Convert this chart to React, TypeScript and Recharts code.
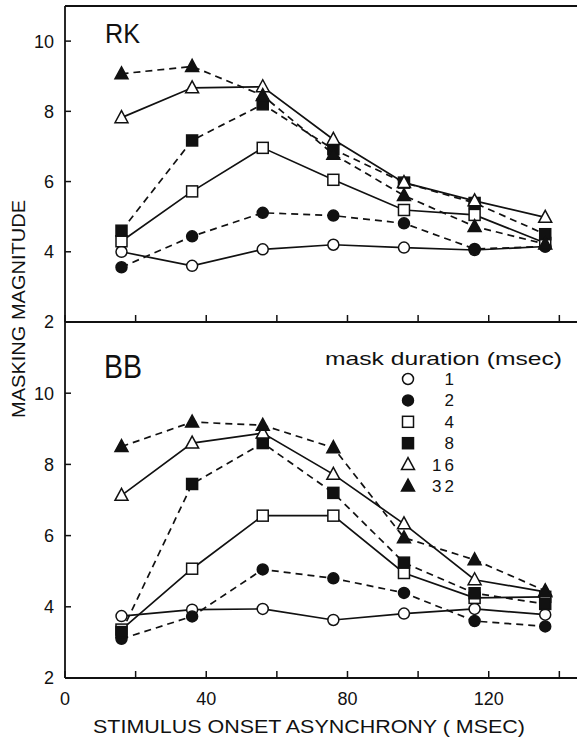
import { LineChart, Line, XAxis, YAxis, ReferenceLine, Legend } from 'recharts'

// stimulus onset asynchrony (msec)
const SOA = [16, 36, 56, 76, 96, 116, 136]
const DURATIONS = ['1', '2', '4', '8', '16', '32']

// subject RK
const RK_1 = [4.0, 3.6, 4.07, 4.2, 4.12, 4.05, 4.15]
const RK_2 = [3.56, 4.44, 5.11, 5.03, 4.81, 4.08, 4.15]
const RK_4 = [4.3, 5.72, 6.96, 6.05, 5.19, 5.05, 4.25]
const RK_8 = [4.6, 7.17, 8.2, 6.92, 5.97, 5.39, 4.5]
const RK_16 = [7.82, 8.67, 8.7, 7.2, 5.97, 5.45, 4.98]
const RK_32 = [9.07, 9.28, 8.45, 6.78, 5.6, 4.72, 4.22]

// subject BB
const BB_1 = [3.74, 3.92, 3.94, 3.63, 3.81, 3.94, 3.78]
const BB_2 = [3.1, 3.73, 5.05, 4.8, 4.39, 3.6, 3.45]
const BB_4 = [3.36, 5.07, 6.56, 6.56, 4.95, 4.25, 4.28]
const BB_8 = [3.29, 7.45, 8.6, 7.2, 5.24, 4.38, 4.08]
const BB_16 = [7.13, 8.6, 8.88, 7.72, 6.33, 4.76, 4.42]
const BB_32 = [8.5, 9.19, 9.1, 8.47, 5.94, 5.32, 4.45]

const X_TICKS = [0, 20, 40, 60, 80, 100, 120, 140]
const Y_TICKS = [2, 4, 6, 8, 10]

const SHAPES = ['circle', 'circle', 'square', 'square', 'triangle', 'triangle']
const FILLED = [false, true, false, true, false, true]

const FONT = '"Liberation Sans", Arial, sans-serif'
const INK = '#111'

const toRows = (series: number[][]) =>
  SOA.map((soa, i) => {
    const row: Record<string, number> = { soa }
    series.forEach((s, k) => { row[`d${DURATIONS[k]}`] = s[i] })
    return row
  })

const rkData = toRows([RK_1, RK_2, RK_4, RK_8, RK_16, RK_32])
const bbData = toRows([BB_1, BB_2, BB_4, BB_8, BB_16, BB_32])

function Marker({ cx, cy, shape, filled }: { cx: number; cy: number; shape: string; filled: boolean }) {
  const fill = filled ? INK : '#fff'
  if (shape === 'circle') {
    return <circle cx={cx} cy={cy} r={5.5} fill={fill} stroke={INK} strokeWidth={1.5} />
  }
  if (shape === 'square') {
    return <rect x={cx - 5.5} y={cy - 5.5} width={11} height={11} fill={fill} stroke={INK} strokeWidth={1.5} />
  }
  return (
    <polygon
      points={`${cx},${cy - 7} ${cx - 6.5},${cy + 5} ${cx + 6.5},${cy + 5}`}
      fill={fill} stroke={INK} strokeWidth={1.5} strokeLinejoin="miter"
    />
  )
}

const makeDot = (k: number) => (p: any) => (
  <Marker key={`dot-${k}-${p.index}`} cx={p.cx} cy={p.cy} shape={SHAPES[k]} filled={FILLED[k]} />
)

function LegendBox() {
  return (
    <svg width={277} height={160} style={{ display: 'block' }}>
      <text x={25} y={23} fontSize={19} fontFamily={FONT} fill={INK} textLength={237} lengthAdjust="spacingAndGlyphs">
        mask duration (msec)
      </text>
      {DURATIONS.map((d, k) => {
        const cy = 37 + k * 21.4
        return (
          <g key={d}>
            <Marker cx={108} cy={cy} shape={SHAPES[k]} filled={FILLED[k]} />
            <text x={157} y={cy + 6} fontSize={17} fontFamily={FONT} fill={INK} textAnchor="end" letterSpacing={3}>
              {d}
            </text>
          </g>
        )
      })}
    </svg>
  )
}

const lines = DURATIONS.map((d, k) => (
  <Line
    key={d}
    type="linear"
    dataKey={`d${d}`}
    stroke={INK}
    strokeWidth={1.7}
    strokeDasharray={FILLED[k] ? '7 5' : undefined}
    dot={makeDot(k)}
    activeDot={false}
    isAnimationActive={false}
  />
))

const axisLine = { stroke: INK, strokeWidth: 1.8 }
const tickLine = { stroke: INK, strokeWidth: 1.5 }
const tickStyle = { fill: INK, fontSize: 18, fontFamily: FONT }

export default function App() {
  return (
    <div style={{ position: 'absolute', left: 0, top: 0, width: 577, height: 743, background: '#fff', fontFamily: FONT }}>
      <div style={{ position: 'absolute', left: 0, top: 312 }}>
        <LineChart width={577} height={431} data={bbData} margin={{ top: 10, right: 0, bottom: 0, left: 0 }}>
          <XAxis
            dataKey="soa" type="number" domain={[0, 145]} ticks={X_TICKS} interval={0}
            height={65} axisLine={axisLine} tickLine={tickLine} tickSize={-7} tickMargin={21}
            tick={tickStyle} tickFormatter={(v: number) => (v % 40 === 0 ? String(v) : '')}
          />
          <YAxis
            type="number" domain={[2, 12]} ticks={Y_TICKS} interval={0} width={65}
            axisLine={axisLine} tickLine={tickLine} tickSize={-6} tickMargin={17} tick={tickStyle}
          />
          <Legend
            layout="vertical" align="center" verticalAlign="middle"
            wrapperStyle={{ left: 300, top: 30, width: 277, height: 160 }}
            content={() => <LegendBox />}
          />
          {lines}
        </LineChart>
      </div>
      <div style={{ position: 'absolute', left: 0, top: 0 }}>
        <LineChart width={577} height={340} data={rkData} margin={{ top: 6, right: 0, bottom: 0, left: 0 }}>
          <XAxis
            dataKey="soa" type="number" domain={[0, 145]} ticks={X_TICKS} interval={0}
            height={18} axisLine={axisLine} tickLine={tickLine} tickSize={-7}
            tickFormatter={() => ''}
          />
          <YAxis
            type="number" domain={[2, 11]} ticks={Y_TICKS} interval={0} width={65}
            axisLine={axisLine} tickLine={tickLine} tickSize={-6} tickMargin={17} tick={tickStyle}
          />
          <ReferenceLine y={11} stroke={INK} strokeWidth={1.8} />
          {lines}
        </LineChart>
      </div>
      <svg width={577} height={743} style={{ position: 'absolute', left: 0, top: 0, pointerEvents: 'none' }}>
        <text x={105} y={43} fontSize={27} fontFamily={FONT} fill={INK} textLength={35} lengthAdjust="spacingAndGlyphs">RK</text>
        <text x={104} y={378} fontSize={34} fontFamily={FONT} fill={INK} textLength={38} lengthAdjust="spacingAndGlyphs">BB</text>
        <text
          transform="translate(25,309) rotate(-90)" x={0} y={0} textAnchor="middle"
          fontSize={18} fontFamily={FONT} fill={INK} textLength={218} lengthAdjust="spacingAndGlyphs"
        >
          MASKING MAGNITUDE
        </text>
        <text
          x={309} y={733} textAnchor="middle" fontSize={18} fontFamily={FONT} fill={INK}
          textLength={432} lengthAdjust="spacingAndGlyphs"
        >
          STIMULUS ONSET ASYNCHRONY ( MSEC)
        </text>
      </svg>
    </div>
  )
}
